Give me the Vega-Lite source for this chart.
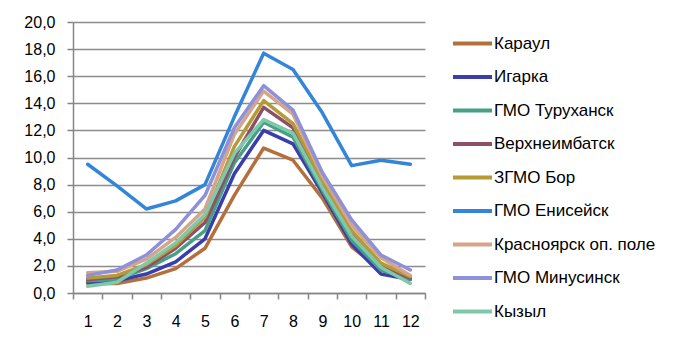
{
  "$schema": "https://vega.github.io/schema/vega-lite/v6.json",
  "autosize": {"type": "none"},
  "padding": {"left": 73, "top": 22, "right": 253, "bottom": 61},
  "width": 352,
  "height": 271,
  "background": "white",
  "config": {
    "view": {"stroke": null},
    "font": "Liberation Sans"
  },
  "data": {
    "values": [
      {"station": "Караул", "month": 1, "t": 0.7}, {"station": "Караул", "month": 2, "t": 0.7}, {"station": "Караул", "month": 3, "t": 1.1}, {"station": "Караул", "month": 4, "t": 1.8}, {"station": "Караул", "month": 5, "t": 3.3}, {"station": "Караул", "month": 6, "t": 7.2}, {"station": "Караул", "month": 7, "t": 10.7}, {"station": "Караул", "month": 8, "t": 9.8}, {"station": "Караул", "month": 9, "t": 7.0}, {"station": "Караул", "month": 10, "t": 3.4}, {"station": "Караул", "month": 11, "t": 1.7}, {"station": "Караул", "month": 12, "t": 1.2},
      {"station": "Игарка", "month": 1, "t": 0.8}, {"station": "Игарка", "month": 2, "t": 0.9}, {"station": "Игарка", "month": 3, "t": 1.4}, {"station": "Игарка", "month": 4, "t": 2.3}, {"station": "Игарка", "month": 5, "t": 4.0}, {"station": "Игарка", "month": 6, "t": 8.8}, {"station": "Игарка", "month": 7, "t": 12.0}, {"station": "Игарка", "month": 8, "t": 11.0}, {"station": "Игарка", "month": 9, "t": 7.4}, {"station": "Игарка", "month": 10, "t": 3.6}, {"station": "Игарка", "month": 11, "t": 1.4}, {"station": "Игарка", "month": 12, "t": 1.0},
      {"station": "ГМО Туруханск", "month": 1, "t": 0.9}, {"station": "ГМО Туруханск", "month": 2, "t": 1.0}, {"station": "ГМО Туруханск", "month": 3, "t": 1.8}, {"station": "ГМО Туруханск", "month": 4, "t": 2.9}, {"station": "ГМО Туруханск", "month": 5, "t": 4.6}, {"station": "ГМО Туруханск", "month": 6, "t": 9.6}, {"station": "ГМО Туруханск", "month": 7, "t": 12.6}, {"station": "ГМО Туруханск", "month": 8, "t": 11.5}, {"station": "ГМО Туруханск", "month": 9, "t": 7.6}, {"station": "ГМО Туруханск", "month": 10, "t": 3.9}, {"station": "ГМО Туруханск", "month": 11, "t": 1.7}, {"station": "ГМО Туруханск", "month": 12, "t": 1.0},
      {"station": "Верхнеимбатск", "month": 1, "t": 1.0}, {"station": "Верхнеимбатск", "month": 2, "t": 1.2}, {"station": "Верхнеимбатск", "month": 3, "t": 1.9}, {"station": "Верхнеимбатск", "month": 4, "t": 3.3}, {"station": "Верхнеимбатск", "month": 5, "t": 5.2}, {"station": "Верхнеимбатск", "month": 6, "t": 10.0}, {"station": "Верхнеимбатск", "month": 7, "t": 13.7}, {"station": "Верхнеимбатск", "month": 8, "t": 12.2}, {"station": "Верхнеимбатск", "month": 9, "t": 8.0}, {"station": "Верхнеимбатск", "month": 10, "t": 4.3}, {"station": "Верхнеимбатск", "month": 11, "t": 2.0}, {"station": "Верхнеимбатск", "month": 12, "t": 1.1},
      {"station": "ЗГМО Бор", "month": 1, "t": 1.1}, {"station": "ЗГМО Бор", "month": 2, "t": 1.3}, {"station": "ЗГМО Бор", "month": 3, "t": 2.1}, {"station": "ЗГМО Бор", "month": 4, "t": 3.5}, {"station": "ЗГМО Бор", "month": 5, "t": 5.6}, {"station": "ЗГМО Бор", "month": 6, "t": 10.8}, {"station": "ЗГМО Бор", "month": 7, "t": 14.2}, {"station": "ЗГМО Бор", "month": 8, "t": 12.5}, {"station": "ЗГМО Бор", "month": 9, "t": 8.3}, {"station": "ЗГМО Бор", "month": 10, "t": 4.6}, {"station": "ЗГМО Бор", "month": 11, "t": 2.2}, {"station": "ЗГМО Бор", "month": 12, "t": 1.2},
      {"station": "ГМО Енисейск", "month": 1, "t": 9.5}, {"station": "ГМО Енисейск", "month": 2, "t": 7.9}, {"station": "ГМО Енисейск", "month": 3, "t": 6.2}, {"station": "ГМО Енисейск", "month": 4, "t": 6.8}, {"station": "ГМО Енисейск", "month": 5, "t": 8.0}, {"station": "ГМО Енисейск", "month": 6, "t": 13.0}, {"station": "ГМО Енисейск", "month": 7, "t": 17.7}, {"station": "ГМО Енисейск", "month": 8, "t": 16.5}, {"station": "ГМО Енисейск", "month": 9, "t": 13.3}, {"station": "ГМО Енисейск", "month": 10, "t": 9.4}, {"station": "ГМО Енисейск", "month": 11, "t": 9.8}, {"station": "ГМО Енисейск", "month": 12, "t": 9.5},
      {"station": "Красноярск оп. поле", "month": 1, "t": 1.5}, {"station": "Красноярск оп. поле", "month": 2, "t": 1.6}, {"station": "Красноярск оп. поле", "month": 3, "t": 2.5}, {"station": "Красноярск оп. поле", "month": 4, "t": 4.1}, {"station": "Красноярск оп. поле", "month": 5, "t": 6.2}, {"station": "Красноярск оп. поле", "month": 6, "t": 11.7}, {"station": "Красноярск оп. поле", "month": 7, "t": 14.9}, {"station": "Красноярск оп. поле", "month": 8, "t": 13.2}, {"station": "Красноярск оп. поле", "month": 9, "t": 8.6}, {"station": "Красноярск оп. поле", "month": 10, "t": 5.0}, {"station": "Красноярск оп. поле", "month": 11, "t": 2.6}, {"station": "Красноярск оп. поле", "month": 12, "t": 1.3},
      {"station": "ГМО Минусинск", "month": 1, "t": 1.3}, {"station": "ГМО Минусинск", "month": 2, "t": 1.7}, {"station": "ГМО Минусинск", "month": 3, "t": 2.8}, {"station": "ГМО Минусинск", "month": 4, "t": 4.7}, {"station": "ГМО Минусинск", "month": 5, "t": 7.2}, {"station": "ГМО Минусинск", "month": 6, "t": 12.2}, {"station": "ГМО Минусинск", "month": 7, "t": 15.3}, {"station": "ГМО Минусинск", "month": 8, "t": 13.5}, {"station": "ГМО Минусинск", "month": 9, "t": 8.9}, {"station": "ГМО Минусинск", "month": 10, "t": 5.4}, {"station": "ГМО Минусинск", "month": 11, "t": 2.8}, {"station": "ГМО Минусинск", "month": 12, "t": 1.7},
      {"station": "Кызыл", "month": 1, "t": 0.5}, {"station": "Кызыл", "month": 2, "t": 0.8}, {"station": "Кызыл", "month": 3, "t": 2.2}, {"station": "Кызыл", "month": 4, "t": 3.7}, {"station": "Кызыл", "month": 5, "t": 5.8}, {"station": "Кызыл", "month": 6, "t": 10.3}, {"station": "Кызыл", "month": 7, "t": 12.8}, {"station": "Кызыл", "month": 8, "t": 11.8}, {"station": "Кызыл", "month": 9, "t": 7.8}, {"station": "Кызыл", "month": 10, "t": 4.2}, {"station": "Кызыл", "month": 11, "t": 1.9}, {"station": "Кызыл", "month": 12, "t": 0.7}
    ]
  },
  "mark": {"type": "line", "strokeWidth": 3.5, "strokeJoin": "round", "strokeCap": "round"},
  "encoding": {
    "x": {
      "field": "month",
      "type": "quantitative",
      "scale": {"domain": [0.5, 12.5], "nice": false, "zero": false},
      "axis": {
        "title": null,
        "grid": false,
        "values": [0.5, 1, 1.5, 2, 2.5, 3, 3.5, 4, 4.5, 5, 5.5, 6, 6.5, 7, 7.5, 8, 8.5, 9, 9.5, 10, 10.5, 11, 11.5, 12, 12.5],
        "labelExpr": "datum.value % 1 === 0 ? format(datum.value, 'd') : ''",
        "tickOpacity": {"condition": {"test": "datum.value % 1 === 0", "value": 0}, "value": 1},
        "labelOverlap": false,
        "labelFlush": false,
        "domainColor": "#868686",
        "domainWidth": 1.5,
        "tickColor": "#868686",
        "tickWidth": 1.5,
        "tickSize": 6,
        "labelPadding": 14,
        "labelFontSize": 16,
        "labelColor": "#000000"
      }
    },
    "y": {
      "field": "t",
      "type": "quantitative",
      "scale": {"domain": [0, 20], "nice": false},
      "axis": {
        "title": null,
        "values": [0, 2, 4, 6, 8, 10, 12, 14, 16, 18, 20],
        "labelExpr": "replace(format(datum.value, '.1f'), '.', ',')",
        "grid": true,
        "gridColor": "#8c8c8c",
        "gridWidth": 1.5,
        "domainColor": "#868686",
        "domainWidth": 1.5,
        "tickColor": "#868686",
        "tickWidth": 1.5,
        "tickSize": 6,
        "labelPadding": 12,
        "labelFontSize": 16,
        "labelColor": "#000000"
      }
    },
    "color": {
      "field": "station",
      "type": "nominal",
      "scale": {
        "domain": ["Караул", "Игарка", "ГМО Туруханск", "Верхнеимбатск", "ЗГМО Бор", "ГМО Енисейск", "Красноярск оп. поле", "ГМО Минусинск", "Кызыл"],
        "range": ["#B3703C", "#3B3DAA", "#45A085", "#8C5069", "#B59A35", "#3385D9", "#D4A58A", "#8E90D8", "#80C8AC"]
      },
      "legend": {
        "title": null,
        "orient": "none",
        "legendX": 378,
        "legendY": 0,
        "padding": 0,
        "symbolType": "stroke",
        "symbolSize": 1521,
        "symbolStrokeWidth": 4,
        "labelOffset": 0,
        "labelFontSize": 17,
        "labelColor": "#000000",
        "rowPadding": 3.5,
        "labelLimit": 300
      }
    },
    "order": {"field": "month", "type": "quantitative"}
  }
}
